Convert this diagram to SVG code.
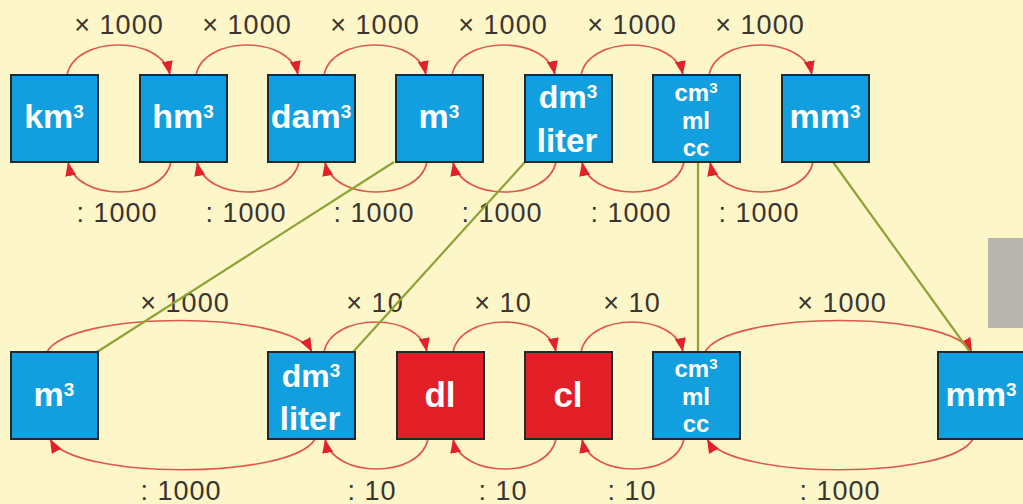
<svg xmlns="http://www.w3.org/2000/svg" width="1023" height="504" viewBox="0 0 1023 504">
<defs>
<style>
.box{stroke:#1e2a30;stroke-width:2}
.blue{fill:#129fe0}
.red{fill:#e21f27}
.bt{fill:#fff;font-family:"Liberation Sans",Arial,sans-serif;font-weight:bold;text-anchor:middle}
.sm{font-size:24px}
.lbl{fill:#3a3531;font-family:"Liberation Sans",Arial,sans-serif;font-size:27px;letter-spacing:1px;text-anchor:middle}
.arc{fill:none;stroke:#e2564c;stroke-width:1.6;marker-end:url(#ah)}
.gl{fill:none;stroke:#8da336;stroke-width:2.2}
</style>
<marker id="ah" markerUnits="userSpaceOnUse" markerWidth="15" markerHeight="11" refX="14" refY="5.5" orient="auto">
<path d="M0,0 L14,5.5 L0,11 Z" fill="#e4202a"/>
</marker>
</defs>
<rect x="0" y="0" width="1023" height="504" fill="#fdf6c8"/>
<rect x="988" y="238" width="35" height="90" fill="#b6b6ae"/>

<g id="labels">
<text class="lbl" x="119" y="34">× 1000</text>
<text class="lbl" x="247" y="34">× 1000</text>
<text class="lbl" x="375" y="34">× 1000</text>
<text class="lbl" x="503" y="34">× 1000</text>
<text class="lbl" x="632" y="34">× 1000</text>
<text class="lbl" x="760" y="34">× 1000</text>
<text class="lbl" x="117" y="222">: 1000</text>
<text class="lbl" x="246" y="222">: 1000</text>
<text class="lbl" x="374" y="222">: 1000</text>
<text class="lbl" x="502" y="222">: 1000</text>
<text class="lbl" x="631" y="222">: 1000</text>
<text class="lbl" x="759" y="222">: 1000</text>
<text class="lbl" x="185" y="312">× 1000</text>
<text class="lbl" x="375" y="312">× 10</text>
<text class="lbl" x="503" y="312">× 10</text>
<text class="lbl" x="632" y="312">× 10</text>
<text class="lbl" x="842" y="312">× 1000</text>
<text class="lbl" x="181" y="500">: 1000</text>
<text class="lbl" x="372" y="500">: 10</text>
<text class="lbl" x="503" y="500">: 10</text>
<text class="lbl" x="632" y="500">: 10</text>
<text class="lbl" x="840" y="500">: 1000</text>
</g>

<g id="connectors">
<path class="arc" d="M67,75 C75,35 162,35 170,75"/>
<path class="arc" d="M196,75 C204,35 290,35 298,75"/>
<path class="arc" d="M324,75 C332,35 418,35 426,75"/>
<path class="arc" d="M452,75 C460,35 547,35 555,75"/>
<path class="arc" d="M581,75 C589,35 675,35 683,75"/>
<path class="arc" d="M709,75 C717,35 804,35 812,75"/>
<path class="arc" d="M171,162 C163,202 76,202 68,162"/>
<path class="arc" d="M299,162 C291,202 205,202 197,162"/>
<path class="arc" d="M427,162 C419,202 333,202 325,162"/>
<path class="arc" d="M556,162 C548,202 461,202 453,162"/>
<path class="arc" d="M684,162 C676,202 590,202 582,162"/>
<path class="arc" d="M813,162 C805,202 718,202 710,162"/>
<path class="arc" d="M47,352 C70,310 290,310 312,352"/>
<path class="arc" d="M324,352 C332,312 419,312 427,352"/>
<path class="arc" d="M453,352 C461,312 548,312 556,352"/>
<path class="arc" d="M581,352 C589,312 675,312 683,352"/>
<path class="arc" d="M705,352 C728,310 950,310 972,352"/>
<path class="arc" d="M315,439 C292,480 72,480 50,439"/>
<path class="arc" d="M428,439 C420,479 333,479 325,439"/>
<path class="arc" d="M556,439 C548,479 461,479 453,439"/>
<path class="arc" d="M684,439 C676,479 590,479 582,439"/>
<path class="arc" d="M973,439 C950,480 730,480 707,439"/>
<line class="gl" x1="394" y1="162" x2="97" y2="352"/>
<line class="gl" x1="525" y1="162" x2="353" y2="352"/>
<line class="gl" x1="698" y1="162" x2="698" y2="352"/>
<line class="gl" x1="833" y1="162" x2="970" y2="352"/>
</g>

<g id="km3"><rect class="box blue" x="11" y="75" width="87" height="87"/><text class="bt" x="54" y="128" font-size="34">km<tspan font-size="19" dy="-10">3</tspan></text></g>
<g id="hm3"><rect class="box blue" x="140" y="75" width="87" height="87"/><text class="bt" x="183" y="128" font-size="34">hm<tspan font-size="19" dy="-10">3</tspan></text></g>
<g id="dam3"><rect class="box blue" x="268" y="75" width="87" height="87"/><text class="bt" x="311" y="128" font-size="34">dam<tspan font-size="19" dy="-10">3</tspan></text></g>
<g id="m3-top"><rect class="box blue" x="396" y="75" width="87" height="87"/><text class="bt" x="439" y="128" font-size="34">m<tspan font-size="19" dy="-10">3</tspan></text></g>
<g id="dm3-top"><rect class="box blue" x="525" y="75" width="87" height="87"/><text class="bt" x="568" y="108" font-size="32">dm<tspan font-size="19" dy="-10">3</tspan></text><text class="bt" x="567" y="152" font-size="33">liter</text></g>
<g id="cm3-top"><rect class="box blue" x="653" y="75" width="87" height="87"/><text class="bt sm" x="696" y="101">cm<tspan font-size="15" dy="-8">3</tspan></text><text class="bt sm" x="696" y="129">ml</text><text class="bt sm" x="696" y="156">cc</text></g>
<g id="mm3-top"><rect class="box blue" x="782" y="75" width="87" height="87"/><text class="bt" x="825" y="128" font-size="34">mm<tspan font-size="19" dy="-10">3</tspan></text></g>

<g id="m3-bottom"><rect class="box blue" x="11" y="352" width="87" height="87"/><text class="bt" x="54" y="406" font-size="34">m<tspan font-size="19" dy="-10">3</tspan></text></g>
<g id="dm3-bottom"><rect class="box blue" x="268" y="352" width="87" height="87"/><text class="bt" x="311" y="387" font-size="32">dm<tspan font-size="19" dy="-10">3</tspan></text><text class="bt" x="310" y="430" font-size="33">liter</text></g>
<g id="dl"><rect class="box red" x="397" y="352" width="87" height="87"/><text class="bt" x="440" y="407" font-size="35">dl</text></g>
<g id="cl"><rect class="box red" x="525" y="352" width="87" height="87"/><text class="bt" x="568" y="407" font-size="35">cl</text></g>
<g id="cm3-bottom"><rect class="box blue" x="653" y="352" width="87" height="87"/><text class="bt sm" x="696" y="377">cm<tspan font-size="15" dy="-8">3</tspan></text><text class="bt sm" x="696" y="405">ml</text><text class="bt sm" x="696" y="432">cc</text></g>
<g id="mm3-bottom"><rect class="box blue" x="938" y="352" width="87" height="87"/><text class="bt" x="981" y="406" font-size="34">mm<tspan font-size="19" dy="-10">3</tspan></text></g>
</svg>
